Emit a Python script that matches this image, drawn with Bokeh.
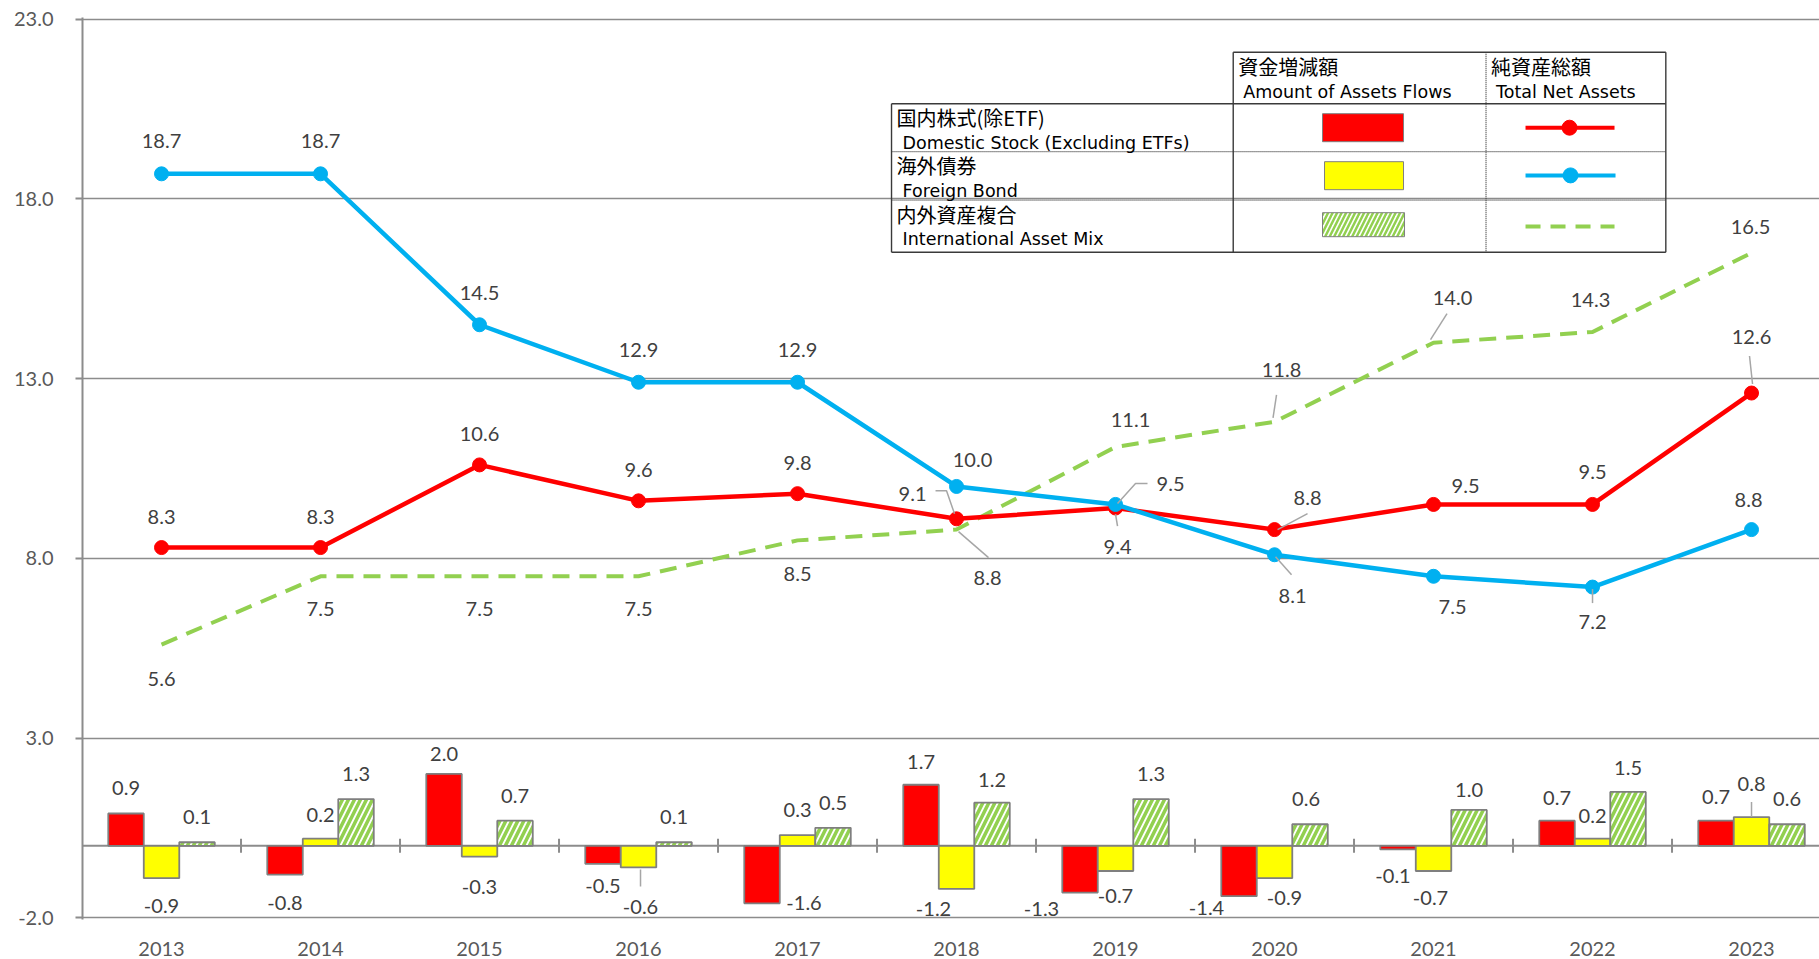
import numpy as np
from bokeh.plotting import figure
from bokeh.models import Range1d, NumeralTickFormatter
from bokeh.embed import file_html
from bokeh.resources import INLINE
from bokeh.core.properties import value

# ---------------- data ----------------
years = ["2013", "2014", "2015", "2016", "2017", "2018", "2019", "2020", "2021", "2022", "2023"]
flow_domestic = [0.9, -0.8, 2.0, -0.5, -1.6, 1.7, -1.3, -1.4, -0.1, 0.7, 0.7]
flow_foreign = [-0.9, 0.2, -0.3, -0.6, 0.3, -1.2, -0.7, -0.9, -0.7, 0.2, 0.8]
flow_mix = [0.1, 1.3, 0.7, 0.1, 0.5, 1.2, 1.3, 0.6, 1.0, 1.5, 0.6]
tna_domestic = [8.3, 8.3, 10.6, 9.6, 9.8, 9.1, 9.4, 8.8, 9.5, 9.5, 12.6]
tna_foreign = [18.7, 18.7, 14.5, 12.9, 12.9, 10.0, 9.5, 8.1, 7.5, 7.2, 8.8]
tna_mix = [5.6, 7.5, 7.5, 7.5, 8.5, 8.8, 11.1, 11.8, 14.0, 14.3, 16.5]
y_ticks = [-2, 3, 8, 13, 18, 23]

legend_head = [("資金増減額", "Amount of Assets Flows"), ("純資産総額", "Total Net Assets")]
legend_rows = [("国内株式(除ETF)", "Domestic Stock (Excluding ETFs)"),
               ("海外債券", "Foreign Bond"),
               ("内外資産複合", "International Asset Mix")]

# ---------------- styling / label placement (pixels) ----------------
RED, YEL, BLUE, GRN = "#FF0000", "#FFFF00", "#00B0F0", "#92D050"
GRID = "#8c8c8c"
LEAD = "#a6a6a6"
TXT = "#404040"
FONT_PX = "20px"

# label offsets (dx, dy) in px relative to point (dy positive = down)
lab_tna_dom = [(0, -31), (0, -31), (0, -31), (0, -31), (0, -31), (-44, -25), (2, 39), (33, -32), (32, -18), (0, -32), (0, -56)]
lead_tna_dom = {5: [(-21, -28), (-10, -28), (-2, -5)], 6: [(0, 6), (2, 18)], 7: [(3, 0), (33, -16)], 10: [(-2, -37), (1, -9)]}
lab_tna_for = [(0, -33), (0, -33), (0, -32), (0, -32), (0, -32), (16, -26), (55, -20), (18, 41), (19, 31), (0, 35), (-3, -30)]
lead_tna_for = {6: [(32, -21), (20, -21), (2, -1)], 7: [(1, 2), (17, 20)], 9: [(0, 2), (0, 16)]}
lab_tna_mix = [(0, 34), (0, 33), (0, 33), (0, 33), (0, 34), (31, 48), (15, -27), (7, -52), (19, -45), (-2, -32), (-1, -26)]
lead_tna_mix = {5: [(2, 2), (32, 28)], 7: [(2, -27), (-1.5, -4)], 8: [(13.5, -29), (-3, -3)]}

lab_fl_dom = [(0, -25), (0, 28), (0, -20), (0, 22), (42, 0), (0, -23), (-38.5, 16), (-32.5, 12), (-5, 27), (0, -23), (0, -24)]
lab_fl_for = [(0, 28), (0, -24), (0, 30), (2, 40), (0, -25), (-23, 20), (0, 25), (10, 20), (-3, 27), (0, -23), (0, -33)]
lead_fl_for = {3: [(2, 2), (2, 19)], 10: [(0, -15), (0, 0)]}
lab_fl_mix = [(0, -25), (0, -25), (0, -25), (0, -25), (0, -25), (0, -23), (0, -25), (-4, -25), (0, -20), (0, -24), (0, -25)]

# ---------------- geometry ----------------
W, H = 1819, 959
BL, BR, BT, BB = 82, 0, 17, 40
FW, FH = W - BL - BR, H - BT - BB
PXX = 159.0
X0 = -0.497
X1 = X0 + FW / PXX
Y0, Y1 = -2.05, 23.05
PXY = FH / (Y1 - Y0)


def dux(px):
    return px / PXX


def duy(px):
    return -px / PXY


def lx(px):  # reference page x -> data
    return (px - 161.0) / PXX


def ly(py):  # reference page y -> data
    return 23.0 - (py - 18.6) / PXY


p = figure(width=W, height=H, x_range=Range1d(X0, X1), y_range=Range1d(Y0, Y1),
           output_backend="svg", toolbar_location=None,
           min_border_left=BL, min_border_right=BR, min_border_top=BT, min_border_bottom=BB)
p.outline_line_color = None
p.background_fill_color = "white"
p.border_fill_color = "white"

p.xgrid.visible = False
p.yaxis.ticker = y_ticks
p.ygrid.grid_line_color = GRID
p.ygrid.grid_line_width = 1.6
p.yaxis.formatter = NumeralTickFormatter(format="0.0")
p.yaxis.axis_line_color = GRID
p.yaxis.axis_line_width = 2
p.yaxis.major_tick_line_color = GRID
p.yaxis.major_tick_line_width = 2
p.yaxis.major_tick_out = 7
p.yaxis.major_tick_in = 0
p.yaxis.minor_tick_line_color = None
p.yaxis.major_label_standoff = 22
p.yaxis.major_label_text_font = "Lato"
p.yaxis.major_label_text_font_size = FONT_PX
p.yaxis.major_label_text_color = "#595959"

xs = np.arange(len(years))
p.xaxis.ticker = list(range(len(years)))
p.xaxis.major_label_overrides = {i: y for i, y in enumerate(years)}
p.xaxis.axis_line_color = None
p.xaxis.major_tick_line_color = None
p.xaxis.minor_tick_line_color = None
p.xaxis.major_label_standoff = 16
p.xaxis.major_label_text_font = "Lato"
p.xaxis.major_label_text_font_size = FONT_PX
p.xaxis.major_label_text_color = "#595959"

# zero line + category ticks
p.segment(x0=[X0], y0=[0], x1=[X1], y1=[0], line_color=GRID, line_width=2)
xt = [i + 0.5 for i in range(len(years)) if i + 0.5 < X1]
p.segment(x0=xt, y0=[duy(-7)] * len(xt), x1=xt, y1=[duy(7)] * len(xt), line_color=GRID, line_width=2)

# bars
bw = 35.5 / PXX
p.vbar(x=xs - bw, top=flow_domestic, bottom=0, width=bw, fill_color=RED, line_color="#7f7f7f", line_width=1.8)
p.vbar(x=xs, top=flow_foreign, bottom=0, width=bw, fill_color=YEL, line_color="#7f7f7f", line_width=1.8)
p.vbar(x=xs + bw, top=flow_mix, bottom=0, width=bw, fill_color="white", line_color="#7f7f7f", line_width=1.8,
       hatch_pattern="/", hatch_color=GRN, hatch_weight=3.5, hatch_scale=12)

# lines
p.line(xs, tna_mix, line_color=GRN, line_width=4, line_dash="17 10")
p.line(xs, tna_domestic, line_color=RED, line_width=4.5)
p.scatter(xs, tna_domestic, size=14, fill_color=RED, line_color=RED)
p.line(xs, tna_foreign, line_color=BLUE, line_width=4.5)
p.scatter(xs, tna_foreign, size=14, fill_color=BLUE, line_color=BLUE)


def add_labels(xbase, vals, offs, leaders):
    lxs, lys, txt = [], [], []
    for i, v in enumerate(vals):
        dx, dy = offs[i]
        lxs.append(xbase[i] + dux(dx))
        lys.append(v + duy(dy))
        txt.append(f"{v:.1f}")
    mx, my = [], []
    for i, pts in leaders.items():
        mx.append([xbase[i] + dux(a) for a, b in pts])
        my.append([vals[i] + duy(b) for a, b in pts])
    if mx:
        p.multi_line(mx, my, line_color=LEAD, line_width=1.5)
    p.text(lxs, lys, text=txt, text_align="center", text_baseline="middle",
           text_font=value("Lato"), text_font_size=FONT_PX, text_color=TXT)


add_labels(list(xs - bw), flow_domestic, lab_fl_dom, {})
add_labels(list(xs), flow_foreign, lab_fl_for, lead_fl_for)
add_labels(list(xs + bw), flow_mix, lab_fl_mix, {})
add_labels(list(xs), tna_domestic, lab_tna_dom, lead_tna_dom)
add_labels(list(xs), tna_foreign, lab_tna_for, lead_tna_for)
add_labels(list(xs), tna_mix, lab_tna_mix, lead_tna_mix)

# ---------------- legend table ----------------
TL, C1, C2, TR = 891, 1232.7, 1485.5, 1665.3
HT, HB = 51.5, 103
R = [103, 151, 199.5, 251.5]
BORDER = "#3a3a3a"

solid_x = [[lx(C1), lx(TR)], [lx(TL), lx(TR)], [lx(TL), lx(TR)],
           [lx(TL), lx(TL)], [lx(C1), lx(C1)], [lx(TR), lx(TR)]]
solid_y = [[ly(HT), ly(HT)], [ly(HB), ly(HB)], [ly(R[3]), ly(R[3])],
           [ly(HB), ly(R[3])], [ly(HT), ly(R[3])], [ly(HT), ly(R[3])]]
p.multi_line(solid_x, solid_y, line_color=BORDER, line_width=1.4)
dot_x = [[lx(TL), lx(TR)], [lx(TL), lx(TR)], [lx(C2), lx(C2)]]
dot_y = [[ly(R[1]), ly(R[1])], [ly(R[2]), ly(R[2])], [ly(HT), ly(R[3])]]
p.multi_line(dot_x, dot_y, line_color=BORDER, line_width=1.2, line_dash="1 1")

jp_x, jp_y, jp_t, en_x, en_y, en_t = [], [], [], [], [], []
for (jp, en), cx in zip(legend_head, [C1 + 5, C2 + 5]):
    jp_x.append(lx(cx)); jp_y.append(ly(HT + 14)); jp_t.append(jp)
    en_x.append(lx(cx + 5)); en_y.append(ly(HT + 40)); en_t.append(en)
for k, (jp, en) in enumerate(legend_rows):
    jp_x.append(lx(TL + 5)); jp_y.append(ly(R[k] + 14)); jp_t.append(jp)
    en_x.append(lx(TL + 11)); en_y.append(ly(R[k] + 39)); en_t.append(en)
p.text(jp_x, jp_y, text=jp_t, text_align="left", text_baseline="middle",
       text_font=value("Noto Sans CJK JP"), text_font_size="20px", text_color="#000000")
p.text(en_x, en_y, text=en_t, text_align="left", text_baseline="middle",
       text_font=value("DejaVu Sans"), text_font_size="17.5px", text_color="#000000")

# legend swatches
p.quad(left=[lx(1322)], right=[lx(1403)], top=[ly(113)], bottom=[ly(141)], fill_color=RED, line_color="#7f7f7f", line_width=1)
p.quad(left=[lx(1324)], right=[lx(1403)], top=[ly(161)], bottom=[ly(189)], fill_color=YEL, line_color="#7f7f7f", line_width=1)
p.quad(left=[lx(1322)], right=[lx(1404)], top=[ly(212)], bottom=[ly(236)], fill_color="white", line_color="#7f7f7f", line_width=1,
       hatch_pattern="/", hatch_color=GRN, hatch_weight=2.5, hatch_scale=9)
p.line([lx(1525), lx(1614)], [ly(127), ly(127)], line_color=RED, line_width=4)
p.scatter([lx(1569)], [ly(127)], size=15, fill_color=RED, line_color=RED)
p.line([lx(1525), lx(1615)], [ly(174.7), ly(174.7)], line_color=BLUE, line_width=4)
p.scatter([lx(1570)], [ly(174.7)], size=15, fill_color=BLUE, line_color=BLUE)
p.line([lx(1525), lx(1614)], [ly(225.7), ly(225.7)], line_color=GRN, line_width=4, line_dash="15 10")

open("out.html", "w").write(file_html(p, INLINE))
